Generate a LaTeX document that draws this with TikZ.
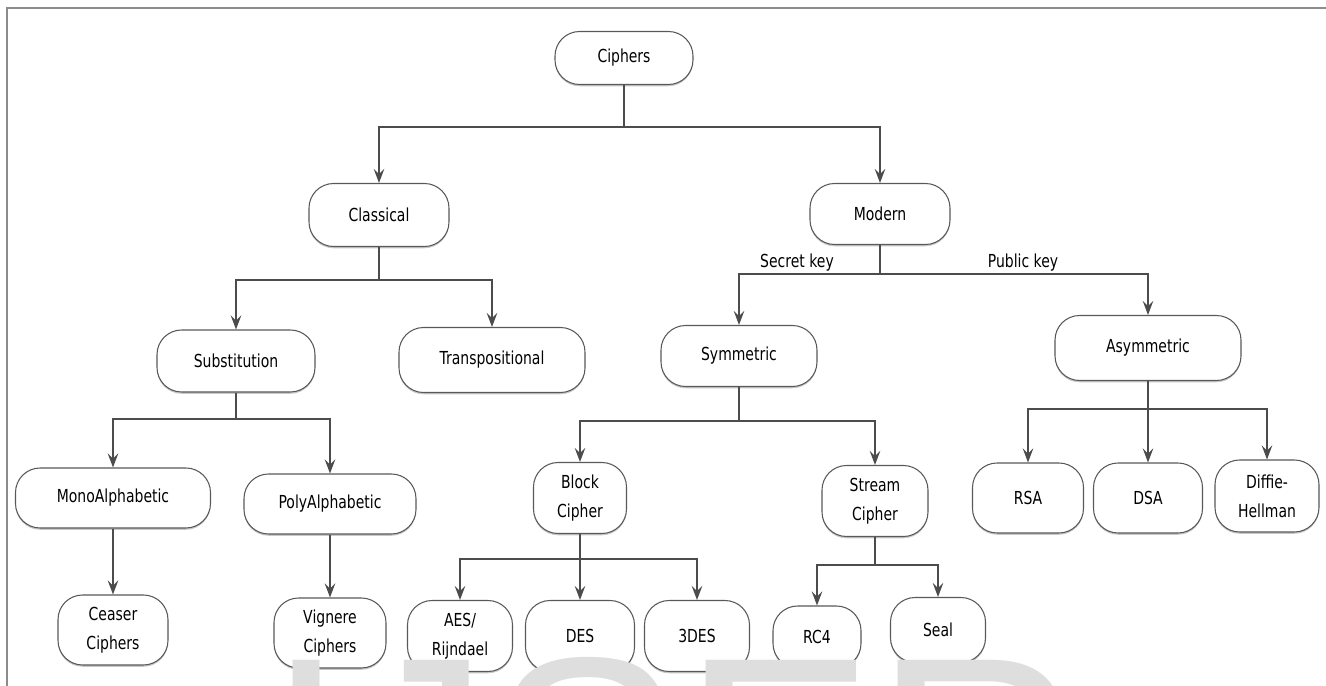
\documentclass[tikz,border=0pt]{standalone}
\usepackage{fontspec}
\setmainfont{DejaVu Sans}[FakeStretch=0.78]
\newfontfamily\markfont{Liberation Sans}
\usetikzlibrary{arrows.meta,shadows}

\newdimen\px
\px=0.02cm

\tikzset{
  cipher/.style={draw=black!65, line width=0.6pt, fill=white, rounded corners=14pt,
    align=center, inner sep=0pt, font=\fontsize{10.2}{16.5}\selectfont,
    drop shadow={shadow xshift=0pt, shadow yshift=-1pt, fill=black!22, opacity=1}},
  dims/.style 2 args={minimum width=#1\px, minimum height=#2\px},
  branch/.style={draw=black!70, line width=0.8pt},
  arrow/.style={branch, -{Stealth[length=8pt,width=6pt,inset=3pt]}},
  keylabel/.style={inner sep=0pt, font=\fontsize{10.2}{12}\selectfont},
}

\begin{document}
\begin{tikzpicture}[x=1\px, y=-1\px]
  \useasboundingbox (0,0) rectangle (1326,686);
  \clip (0,0) rectangle (1326,686);
  \fill[white] (0,0) rectangle (1326,686);
  \draw[black!45, line width=1.2pt] (7,686) -- (7,8) -- (1326,8);

  \node[cipher, dims={138}{53}] (ciphers) at (624,58) {Ciphers};

  \node[cipher, dims={140}{63}] (classical) at (379,215) {Classical};
  \node[cipher, dims={140}{61}] (modern) at (880,214) {Modern};

  \node[cipher, dims={158}{62}] (subst) at (236,361) {Substitution};
  \node[cipher, dims={186}{65}] (transp) at (492,360) {Transpositional};
  \node[cipher, dims={156}{61}] (symm) at (739,356) {Symmetric};
  \node[cipher, dims={186}{65}] (asymm) at (1148,348) {Asymmetric};

  \node[cipher, dims={195}{60}] (mono) at (113,498) {MonoAlphabetic};
  \node[cipher, dims={172}{60}] (poly) at (330,504) {PolyAlphabetic};
  \node[cipher, dims={93}{71}] (block) at (580,498) {Block\\Cipher};
  \node[cipher, dims={106}{71}] (stream) at (875,501) {Stream\\Cipher};
  \node[cipher, dims={111}{70}] (rsa) at (1028,498) {RSA};
  \node[cipher, dims={109}{70}] (dsa) at (1148,498) {DSA};
  \node[cipher, dims={104}{72}] (diffie) at (1267,496) {Diffie-\\Hellman};

  \node[cipher, dims={110}{70}] (ceaser) at (113,630) {Ceaser\\Ciphers};
  \node[cipher, dims={112}{70}] (vignere) at (330,633) {Vignere\\Ciphers};
  \node[cipher, dims={105}{71}] (aes) at (460,636) {AES/\\Rijndael};
  \node[cipher, dims={109}{71}] (des) at (580,636) {DES};
  \node[cipher, dims={105}{71}] (tdes) at (697,636) {3DES};
  \node[cipher, dims={88}{62}] (rc4) at (817,637) {RC4};
  \node[cipher, dims={95}{65}] (seal) at (938,630) {Seal};

  \coordinate (f0) at (624,127);
  \coordinate (f1) at (379,280);
  \coordinate (f2) at (880,274);
  \coordinate (f3) at (236,419);
  \coordinate (f4) at (739,421);
  \coordinate (f5) at (1148,409);
  \coordinate (f6) at (580,559);
  \coordinate (f7) at (875,565);

  \draw[branch] (ciphers) -- (f0);
  \draw[arrow] (f0) -| (classical);
  \draw[arrow] (f0) -| (modern);

  \draw[branch] (classical) -- (f1);
  \draw[arrow] (f1) -| (subst);
  \draw[arrow] (f1) -| (transp);

  \draw[branch] (modern) -- (f2);
  \draw[arrow] (f2) -| (symm);
  \draw[arrow] (f2) -| (asymm);
  \node[keylabel] (secret) at (797,263) {Secret key};
  \node[keylabel] (public) at (1023,263) {Public key};

  \draw[branch] (subst) -- (f3);
  \draw[arrow] (f3) -| (mono);
  \draw[arrow] (f3) -| (poly);
  \draw[arrow] (mono) -- (ceaser);
  \draw[arrow] (poly) -- (vignere);

  \draw[branch] (symm) -- (f4);
  \draw[arrow] (f4) -| (block);
  \draw[arrow] (f4) -| (stream);

  \draw[branch] (asymm) -- (f5);
  \draw[arrow] (f5) -| (rsa);
  \draw[arrow] (f5) -- (dsa);
  \draw[arrow] (f5) -| (diffie);

  \draw[branch] (block) -- (f6);
  \draw[arrow] (f6) -| (aes);
  \draw[arrow] (f6) -- (des);
  \draw[arrow] (f6) -| (tdes);

  \draw[branch] (stream) -- (f7);
  \draw[arrow] (f7) -| (rc4);
  \draw[arrow] (f7) -| (seal);

  \node[anchor=north west, inner sep=0pt, text=black!13,
    font=\markfont\fontsize{164}{164}\selectfont] (mark) at (266,657) {IJSER};
\end{tikzpicture}
\end{document}
